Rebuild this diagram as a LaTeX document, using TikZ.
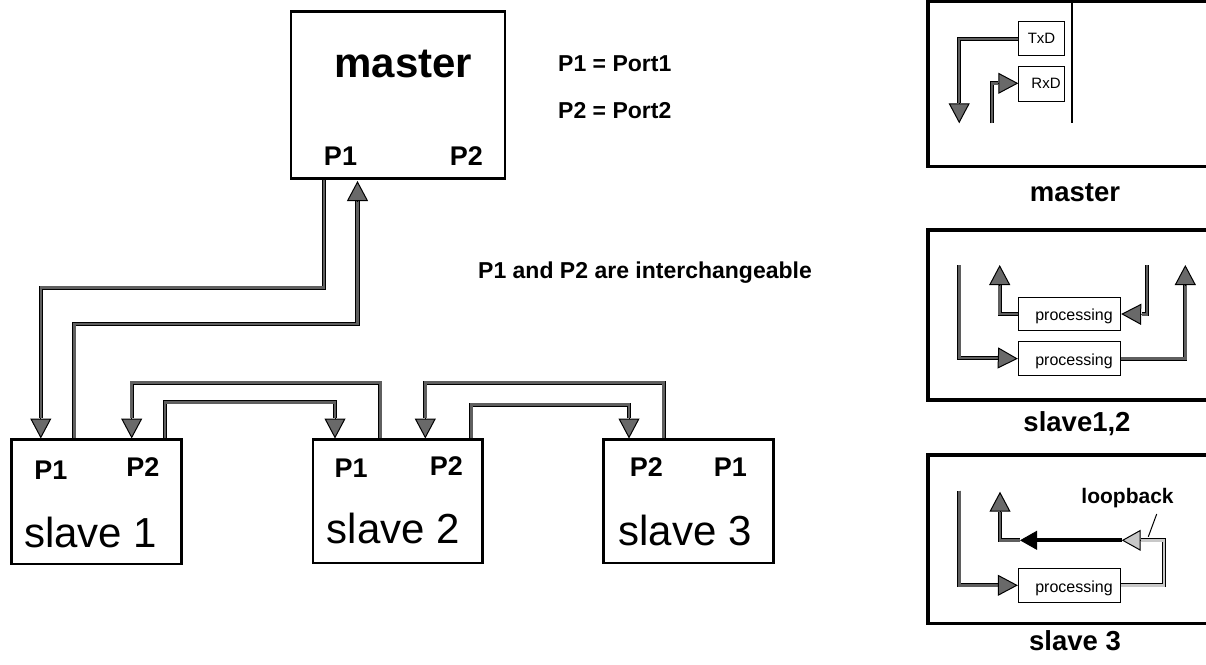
\documentclass[tikz,border=0pt]{standalone}
\usepackage{fontspec}
\setmainfont{Liberation Sans}
\usetikzlibrary{arrows.meta}
\definecolor{agray}{RGB}{105,105,105}
\definecolor{lgray}{RGB}{95,95,95}
\definecolor{pale}{RGB}{200,200,200}
\begin{document}
\begin{tikzpicture}[x=1pt,y=-1pt,
  box/.style={draw, line width=2.7pt, inner sep=0pt},
  panel/.style={draw, line width=3.3pt, inner sep=0pt},
  smallbox/.style={draw, line width=0.9pt, inner sep=0pt},
  txt/.style={inner sep=0pt, anchor=base},
  bigbold/.style={txt, font=\fontsize{42}{48}\selectfont\bfseries},
  bigname/.style={txt, font=\fontsize{42}{48}\selectfont},
  port/.style={txt, font=\fontsize{27}{32}\selectfont\bfseries},
  note/.style={txt, font=\fontsize{23}{28}\selectfont\bfseries},
  plabel/.style={txt, font=\fontsize{27.5}{32}\selectfont\bfseries},
  small/.style={txt, font=\fontsize{15}{18}\selectfont},
  proc/.style={txt, font=\fontsize{16}{19}\selectfont},
  loopfont/.style={txt, font=\fontsize{21}{25}\selectfont\bfseries},
  conn/.style={draw=black, line width=0.9pt, double=lgray, double distance=2.5pt, line join=miter},
  lconn/.style={draw=black, line width=0.9pt, double=pale, double distance=2.5pt, line join=miter},
  ahead/.style={line width=1pt, -{Triangle[length=20pt,width=21pt,fill=agray]}},
  lhead/.style={line width=1pt, -{Triangle[length=19pt,width=21pt,fill=pale]}},
  bhead/.style={line width=1pt, -{Triangle[length=17pt,width=19pt,fill=black]}},
]
\useasboundingbox (0,0) rectangle (1206,664);

% ---------- port coordinates ----------
\coordinate (mOut) at (323.8,178.3);
\coordinate (mIn)  at (357.5,181);
\coordinate (s1a)  at (40.8,438.5);
\coordinate (s1b)  at (74.3,439.7);
\coordinate (s1c)  at (131.7,438.5);
\coordinate (s1d)  at (165,439.7);
\coordinate (s2a)  at (335,438.5);
\coordinate (s2b)  at (380.3,439.7);
\coordinate (s2c)  at (425.3,438.5);
\coordinate (s2d)  at (471.3,439.7);
\coordinate (s3a)  at (629,438.5);
\coordinate (s3b)  at (663.7,439.7);

% ---------- main connectors ----------
\draw[conn] (mOut) |- (40.8,287.7) -- (40.8,418.3) coordinate (b1);
\draw[ahead] (b1) -- (s1a);
\draw[conn] (s1b) |- (357.5,324) -- (357.5,201) coordinate (b2);
\draw[ahead] (b2) -- (mIn);
\draw[conn] (s2b) |- (131.7,382.7) -- (131.7,418.3) coordinate (b3);
\draw[ahead] (b3) -- (s1c);
\draw[conn] (s1d) |- (335,402.3) -- (335,418.3) coordinate (b4);
\draw[ahead] (b4) -- (s2a);
\draw[conn] (s3b) |- (425.3,382.7) -- (425.3,418.3) coordinate (b5);
\draw[ahead] (b5) -- (s2c);
\draw[conn] (s2d) |- (629,404.7) -- (629,418.3) coordinate (b6);
\draw[ahead] (b6) -- (s3a);

% ---------- main boxes ----------
\node[box, minimum width=214pt, minimum height=166.6pt] (master) at (398,95) {};
\node[box, minimum width=170pt, minimum height=124.3pt] (slave1) at (96.3,501.85) {};
\node[box, minimum width=169.8pt, minimum height=123.3pt] (slave2) at (397.9,501.35) {};
\node[box, minimum width=170pt, minimum height=123.3pt] (slave3) at (688.7,501.35) {};

\node[bigbold] (tmaster) at (403.3,77) {master};
\node[port] (mp1) at (340.5,165.7) {P1};
\node[port] (mp2) at (466.3,165.7) {P2};

\node[port] (s1p1) at (50.8,479.3) {P1};
\node[port] (s1p2) at (143,476.7) {P2};
\node[bigname] (ts1) at (90.8,547.3) {slave 1};

\node[port] (s2p1) at (351.2,477.3) {P1};
\node[port] (s2p2) at (446.3,475) {P2};
\node[bigname] (ts2) at (393.3,543.3) {slave 2};

\node[port] (s3p2) at (646.3,476.7) {P2};
\node[port] (s3p1) at (730.3,476.7) {P1};
\node[bigname] (ts3) at (685,545) {slave 3};

\node[note, anchor=base west] (n1) at (558,71) {P1 = Port1};
\node[note, anchor=base west] (n2) at (558,118.3) {P2 = Port2};
\node[note, anchor=base west] (n3) at (478,278) {P1 and P2 are interchangeable};

% ---------- right panels ----------
\node[panel, minimum width=302pt, minimum height=165.2pt] (pm) at (1079,84.1) {};
\node[panel, minimum width=302pt, minimum height=170pt] (ps12) at (1079,315) {};
\node[panel, minimum width=302pt, minimum height=168.3pt] (ps3) at (1079,539.15) {};

\node[plabel] (lpm) at (1075,201.7) {master};
\node[plabel] (lps12) at (1077,431.7) {slave1,2};
\node[plabel] (lps3) at (1075,650.7) {slave 3};

% master panel
\coordinate (vtop) at (1072,0);
\coordinate (vbot) at (1072,123.3);
\draw[line width=1.2pt] (vtop) -- (vbot);
\node[smallbox, minimum width=45.7pt, minimum height=34pt] (txd) at (1041.15,38.7) {};
\node[smallbox, minimum width=45.7pt, minimum height=34.3pt] (rxd) at (1041.15,83.85) {};
\node[small] (ttxd) at (1041.5,43) {TxD};
\node[small] (trxd) at (1046,88) {RxD};
\coordinate (txdL) at (1018.3,39);
\coordinate (rxdL) at (1018.3,83.3);
\draw[conn] (txdL) -| (959.2,103.3) coordinate (b7);
\draw[ahead] (b7) -- (959.2,123.3) coordinate (t7);
\draw[conn] (991.8,123.3) coordinate (r0) |- (998.3,83.3) coordinate (b8);
\draw[ahead] (b8) -- (rxdL);

% slave1,2 panel
\node[smallbox, minimum width=102.4pt, minimum height=33.4pt] (procU) at (1069.5,314) {};
\node[smallbox, minimum width=102.4pt, minimum height=34pt] (procL) at (1069.5,358.7) {};
\node[proc] (tpu) at (1074,320) {processing};
\node[proc] (tpl) at (1074,365) {processing};
\coordinate (aIn) at (959.3,265);
\draw[conn] (aIn) |- (998.3,358) coordinate (b9);
\draw[ahead] (b9) -- (procL.west);
\draw[conn] (procU.west) -| (999.7,285) coordinate (b10);
\draw[ahead] (b10) -- (999.7,265) coordinate (t10);
\coordinate (cIn) at (1147,265);
\draw[conn] (cIn) |- (1141.5,314.3) coordinate (b11);
\draw[ahead] (b11) -- (procU.east);
\draw[conn] (procL.east) -| (1185.3,285) coordinate (b12);
\draw[ahead] (b12) -- (1185.3,265) coordinate (t12);

% slave 3 panel
\node[smallbox, minimum width=102.4pt, minimum height=34pt] (proc3) at (1069.5,585.3) {};
\node[proc] (tp3) at (1074,592) {processing};
\coordinate (a3In) at (959.3,490.7);
\draw[conn] (a3In) |- (998.3,585.3) coordinate (b13);
\draw[ahead] (b13) -- (proc3.west);
\coordinate (btip) at (1020,540.3);
\draw[conn] (btip) -| (1000,511.7) coordinate (b14);
\draw[ahead] (b14) -- (1000,491.7) coordinate (t14);
\coordinate (ltip) at (1121.7,540.3);
\draw[lconn] (proc3.east) -| (1164.2,540.3) -- (1140.7,540.3) coordinate (b15);
\draw[lhead] (b15) -- (ltip);
\draw[line width=4pt] (ltip) -- (1037,540.3) coordinate (b16);
\draw[bhead] (b16) -- (btip);
\node[loopfont] (tloop) at (1127.5,503.3) {loopback};
\draw[line width=1pt] (1156.7,514) -- (1148.3,536.7);
\end{tikzpicture}
\end{document}
